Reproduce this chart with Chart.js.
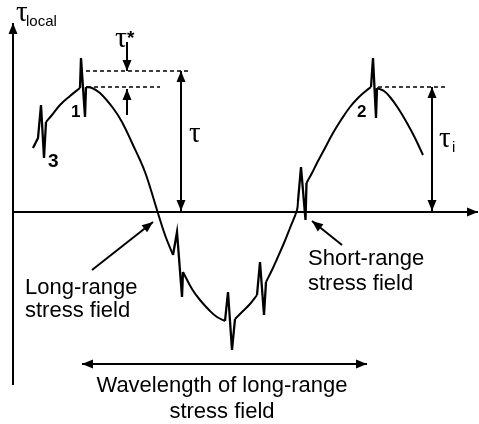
<!DOCTYPE html>
<html>
<head>
<meta charset="utf-8">
<script src="https://cdn.jsdelivr.net/npm/chart.js@4.4.1/dist/chart.umd.min.js"></script>
<style>
  html, body { margin: 0; padding: 0; background: #fff; }
  #wrap { width: 479px; height: 424px; }
</style>
</head>
<body>
<div id="wrap"><canvas id="c" width="479" height="424"></canvas></div>
<script>
// Position along the glide plane (x) and local shear stress (y, 0 = zero-stress axis).
// Long-range sinusoid with short-range spikes superimposed at obstacles.
const curveX = [33, 38, 41, 44, 46, 52, 60, 70, 80, 81, 85, 86, 92, 100, 113, 122, 133, 140, 145, 150,
  157, 165, 173, 177, 182, 183, 192, 200, 210, 217, 225, 228, 232, 235, 243, 250, 257, 260, 264, 266,
  272, 277, 284, 290, 297, 298, 301, 305.5, 306.5, 312, 317, 325, 333, 341, 350, 358, 367, 371, 373, 376,
  377, 384, 390, 398, 407, 415, 423];
const curveY = [64, 74, 107, 54, 90, 97, 107, 116, 124, 154, 95, 125, 124, 119, 104, 90, 67, 52, 40, 25,
  2, -23, -43, -20, -85, -60, -77, -88, -99, -105, -109, -80, -138, -107, -99, -92, -83, -50, -103, -70,
  -58, -47, -31, -16, 2, 11, 45, -8, 29, 39, 49, 64, 79, 92, 105, 114, 122, 125, 154, 94,
  124, 121, 115, 104, 89, 74, 57];
// Index ranges (inclusive) of the short-range spikes within the curve
const spikeRanges = [[0, 4], [8, 11], [22, 25], [30, 33], [36, 39], [45, 48], [57, 60]];

// Stress levels marked on the figure
const peakLevel = 125;    // crest of the long-range field
const topLevel = 141;     // crest plus short-range contribution
// Horizontal extents of the dashed guide lines
const guideTopX = [86, 190];
const guidePeakX = [87, 160];
const guidePeak2X = [378, 446];

// Axis extents
const axisXRange = [13, 478];
const axisYRange = [-173, 189];

// Arrow positions
const tauStarX = 127;
const tauX = 181;
const tauIX = 432;
const waveY = -152;
const waveXRange = [82, 367];
const longPointer = [[92, -58], [153, -10]];
const shortPointer = [[342, -33], [312, -9]];

const SANS = '"Liberation Sans", Arial, sans-serif';
const SERIF = '"Liberation Serif", "Times New Roman", serif';

// Text labels: [text, x, y, font, align]
const labels = [
  ['\u03C4', 16, 191, '29px ' + SERIF, 'left'],
  ['local', 26, 186, '15px ' + SANS, 'left'],
  ['\u03C4', 115, 165, '30px ' + SERIF, 'left'],
  ['*', 127, 168, 'bold 19px ' + SANS, 'left'],
  ['\u03C4', 189, 70, '29px ' + SERIF, 'left'],
  ['\u03C4', 439, 65, '29px ' + SERIF, 'left'],
  ['i', 452, 60, '15px ' + SANS, 'left'],
  ['1', 71, 95, 'bold 17px ' + SANS, 'left'],
  ['2', 357, 95, 'bold 17px ' + SANS, 'left'],
  ['3', 48, 45, 'bold 19px ' + SANS, 'left'],
  ['Long-range', 25, -82, '22px ' + SANS, 'left'],
  ['stress field', 25, -105, '22px ' + SANS, 'left'],
  ['Short-range', 308, -53, '22px ' + SANS, 'left'],
  ['stress field', 308, -78, '22px ' + SANS, 'left'],
  ['Wavelength of long-range', 222, -180, '22px ' + SANS, 'center'],
  ['stress field', 222, -206, '22px ' + SANS, 'center']
];

function pts(xs, ys, a, b) {
  const out = [];
  for (let i = a; i <= b; i++) out.push({ x: xs[i], y: ys[i] });
  return out;
}
function hline(xr, y) { return [{ x: xr[0], y: y }, { x: xr[1], y: y }]; }

// Split the curve into smooth long-range pieces and straight short-range spikes
function curveDatasets() {
  const sets = [];
  const base = { showLine: true, borderColor: '#000', pointRadius: 0, fill: false, borderJoinStyle: 'miter' };
  let cursor = 0;
  spikeRanges.forEach(([a, b]) => {
    if (a > cursor) sets.push(Object.assign({ data: pts(curveX, curveY, cursor, a), tension: 0.4, borderWidth: 2 }, base));
    sets.push(Object.assign({ data: pts(curveX, curveY, a, b), tension: 0, borderWidth: 2.3 }, base));
    cursor = b;
  });
  if (cursor < curveX.length - 1) {
    sets.push(Object.assign({ data: pts(curveX, curveY, cursor, curveX.length - 1), tension: 0.4, borderWidth: 2 }, base));
  }
  return sets;
}

function arrowHead(ctx, x0, y0, x1, y1, len, half) {
  const a = Math.atan2(y1 - y0, x1 - x0);
  ctx.beginPath();
  ctx.moveTo(x1, y1);
  ctx.lineTo(x1 - len * Math.cos(a) + half * Math.sin(a), y1 - len * Math.sin(a) - half * Math.cos(a));
  ctx.lineTo(x1 - len * Math.cos(a) - half * Math.sin(a), y1 - len * Math.sin(a) + half * Math.cos(a));
  ctx.closePath();
  ctx.fill();
}

function arrow(ctx, x0, y0, x1, y1, both) {
  ctx.beginPath();
  ctx.moveTo(x0, y0);
  ctx.lineTo(x1, y1);
  ctx.stroke();
  arrowHead(ctx, x0, y0, x1, y1, 11, 4.5);
  if (both) arrowHead(ctx, x1, y1, x0, y0, 11, 4.5);
}

const decorations = {
  id: 'decorations',
  afterDatasetsDraw(chart) {
    const ctx = chart.ctx;
    const sx = chart.scales.x, sy = chart.scales.y;
    const X = v => sx.getPixelForValue(v);
    const Y = v => sy.getPixelForValue(v);
    ctx.save();
    ctx.strokeStyle = '#000';
    ctx.fillStyle = '#000';
    ctx.lineWidth = 2;
    ctx.lineCap = 'butt';
    // axes
    arrow(ctx, X(axisXRange[0]), Y(0), X(axisXRange[1]), Y(0), false);
    arrow(ctx, X(axisXRange[0]), Y(axisYRange[0]), X(axisXRange[0]), Y(axisYRange[1]), false);
    // tau* pair of arrows
    arrow(ctx, X(tauStarX), Y(topLevel + 29), X(tauStarX), Y(topLevel), false);
    arrow(ctx, X(tauStarX), Y(peakLevel - 28), X(tauStarX), Y(peakLevel - 2), false);
    // tau and tau_i
    arrow(ctx, X(tauX), Y(topLevel), X(tauX), Y(1), true);
    arrow(ctx, X(tauIX), Y(peakLevel), X(tauIX), Y(1), true);
    // wavelength
    arrow(ctx, X(waveXRange[0]), Y(waveY), X(waveXRange[1]), Y(waveY), true);
    // pointers
    arrow(ctx, X(longPointer[0][0]), Y(longPointer[0][1]), X(longPointer[1][0]), Y(longPointer[1][1]), false);
    arrow(ctx, X(shortPointer[0][0]), Y(shortPointer[0][1]), X(shortPointer[1][0]), Y(shortPointer[1][1]), false);
    // labels
    ctx.textBaseline = 'alphabetic';
    labels.forEach(([t, x, y, f, al]) => {
      ctx.font = f;
      ctx.textAlign = al;
      ctx.fillText(t, X(x), Y(y));
    });
    ctx.restore();
  }
};

const dashed = { borderColor: '#000', borderWidth: 1.6, borderDash: [4, 3], pointRadius: 0, showLine: true, fill: false };

new Chart(document.getElementById('c'), {
  type: 'scatter',
  data: {
    datasets: curveDatasets().concat([
      Object.assign({ data: hline(guideTopX, topLevel) }, dashed),
      Object.assign({ data: hline(guidePeakX, peakLevel) }, dashed),
      Object.assign({ data: hline(guidePeak2X, peakLevel) }, dashed)
    ])
  },
  options: {
    responsive: false,
    animation: false,
    layout: { padding: 0 },
    plugins: { legend: { display: false }, tooltip: { enabled: false } },
    scales: {
      x: { type: 'linear', min: 0, max: 479, display: false },
      y: { type: 'linear', min: -212, max: 212, display: false }
    }
  },
  plugins: [decorations]
});
</script>
</body>
</html>
